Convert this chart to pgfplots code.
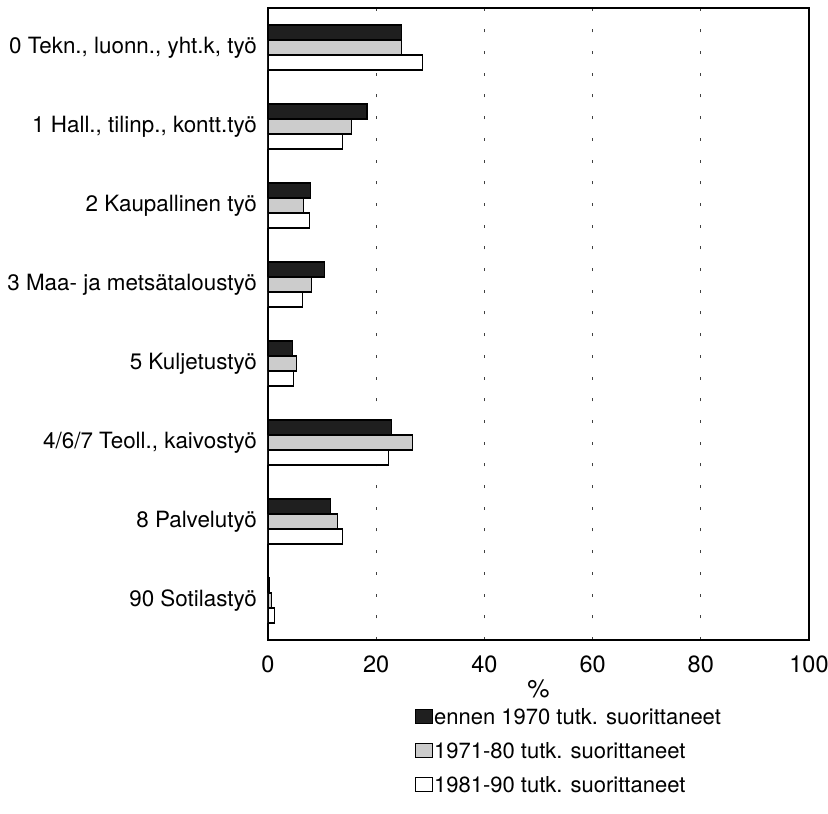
\documentclass[border=0pt]{standalone}
\usepackage{pgfplots}
\pgfplotsset{compat=1.18}
\usepackage{pgfplotstable}
\usepackage{fontspec}
\setmainfont{TeX Gyre Heros}
\pgfplotstableread{
y a b c
7 24.7 24.7 28.6
6 18.3 15.4 13.8
5 7.8 6.5 7.6
4 10.5 8.1 6.4
3 4.5 5.3 4.7
2 22.9 26.7 22.3
1 11.5 12.8 13.8
0 0.3 0.7 1.2
}\datatable
\begin{document}
\begin{tikzpicture}
\begin{axis}[
  scale only axis, width=541pt, height=632pt,
  xbar, bar width=0.19,
  xmin=0, xmax=100, ymin=-0.5, ymax=7.5,
  xtick={0,20,...,100}, ytick={0,...,7},
  yticklabels={{90 Sotilastyö},{8 Palvelutyö},{4/6/7 Teoll., kaivostyö},{5 Kuljetustyö},{3 Maa- ja metsätaloustyö},{2 Kaupallinen työ},{1 Hall., tilinp., kontt.työ},{0 Tekn., luonn., yht.k, työ}},
  major tick length=0pt,
  /pgf/number format/assume math mode=true,
  yticklabel style={font=\fontsize{22.4}{26}\selectfont, inner sep=0pt, xshift=-11pt},
  xticklabel style={font=\fontsize{23.5}{27}\selectfont, inner sep=0pt, yshift=-16pt},
  xlabel={\%},
  xlabel style={font=\fontsize{25}{29}\selectfont, at={(0.5,0)}, anchor=north, yshift=-40pt, inner sep=0pt},
  xmajorgrids,
  grid style={black!75, line width=0.9pt, dash pattern=on 3pt off 18.7pt},
  axis line style={line width=1.2pt},
  legend style={draw=none, fill=none, at={(0.266,-0.103)}, anchor=north west,
    font=\fontsize{22}{26}\selectfont, row sep=14.5pt, nodes={inner sep=1pt}},
  legend cell align=left,
  legend image code/.code={\draw[#1, line width=1pt] (0pt,-6.5pt) rectangle (17pt,7.5pt);},
]
\addplot[draw=black, line width=1.2pt, fill=black!88, bar shift=0.19] table[x=a, y=y] {\datatable};
\addlegendentry{ennen 1970 tutk. suorittaneet}
\addplot[draw=black, line width=1.2pt, fill=gray!40, bar shift=0] table[x=b, y=y] {\datatable};
\addlegendentry{1971-80 tutk. suorittaneet}
\addplot[draw=black, line width=1.2pt, fill=white, bar shift=-0.19] table[x=c, y=y] {\datatable};
\addlegendentry{1981-90 tutk. suorittaneet}
\end{axis}
\pgfresetboundingbox
\path (current axis.south west) ++(-268pt,-174pt) rectangle ++(828pt,814pt);
\end{tikzpicture}
\end{document}
